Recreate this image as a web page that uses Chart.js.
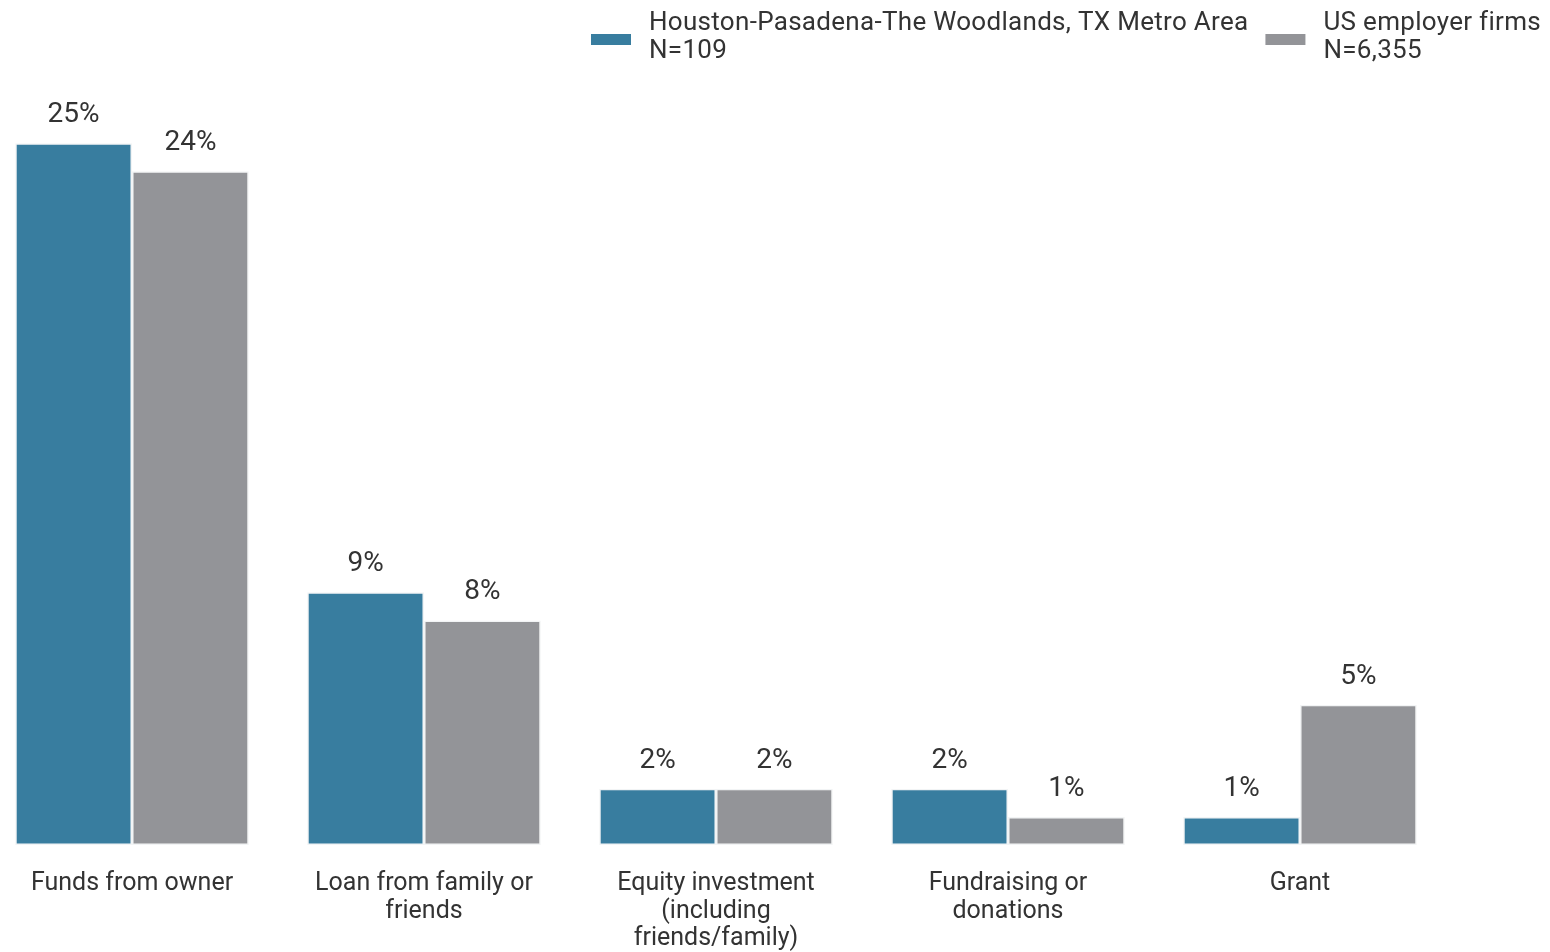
<!DOCTYPE html>
<html>
<head>
<meta charset="utf-8">
<script src="https://cdn.jsdelivr.net/npm/chart.js@4.4.1/dist/chart.umd.min.js"></script>
<style>
  html, body { margin: 0; padding: 0; background: #fff; overflow: hidden; }
  .wrap { position: absolute; left: -14px; top: 0; width: 1564px; height: 952px; }
</style>
</head>
<body>
<div class="wrap"><canvas id="fundingChart"></canvas></div>
<script>
const categories = [
  "Funds from owner",
  ["Loan from family or", "friends"],
  ["Equity investment", "(including", "friends/family)"],
  ["Fundraising or", "donations"],
  "Grant",
];

const houstonValues = [25, 9, 2, 2, 1];
const usValues = [24, 8, 2, 1, 5];

const seriesNames = [
  ["Houston-Pasadena-The Woodlands, TX Metro Area", "N=109"],
  ["US employer firms", "N=6,355"],
];

const palette = {
  blue: "#387d9f",
  gray: "#939498",
  ink: "#333333",
};

const fontFamily = "Roboto, 'Noto Sans', sans-serif";

// value labels above each bar
const valueLabels = {
  id: "valueLabels",
  afterDatasetsDraw(chart) {
    const { ctx } = chart;
    ctx.save();
    ctx.font = `28px ${fontFamily}`;
    ctx.fillStyle = palette.ink;
    ctx.textAlign = "center";
    ctx.textBaseline = "middle";
    chart.data.datasets.forEach((dataset, i) => {
      chart.getDatasetMeta(i).data.forEach((bar, j) => {
        ctx.fillText(`${dataset.data[j]}%`, bar.x, bar.y - 28);
      });
    });
    ctx.restore();
  },
};

// two-line legend, right aligned at the top
const topLegend = {
  id: "topLegend",
  afterDraw(chart) {
    const { ctx } = chart;
    const right = 1555;
    const boxW = 40;
    const boxH = 11;
    const textGap = 18;
    const itemGap = 17;
    ctx.save();
    ctx.font = `26px ${fontFamily}`;
    ctx.letterSpacing = "0.3px";
    ctx.textBaseline = "middle";
    ctx.textAlign = "left";
    const widths = seriesNames.map((lines) => Math.max(...lines.map((l) => ctx.measureText(l).width)));
    let x = right;
    const starts = [];
    for (let i = seriesNames.length - 1; i >= 0; i--) {
      x -= widths[i] + textGap + boxW;
      starts[i] = x;
      x -= itemGap;
    }
    chart.data.datasets.forEach((dataset, i) => {
      const sx = starts[i];
      ctx.fillStyle = dataset.backgroundColor;
      ctx.fillRect(sx, 34, boxW, boxH);
      ctx.fillStyle = palette.ink;
      seriesNames[i].forEach((line, k) => {
        ctx.fillText(line, sx + boxW + textGap, 23 + k * 28);
      });
    });
    ctx.restore();
  },
};

const chart = new Chart(document.getElementById("fundingChart").getContext("2d"), {
  type: "bar",
  data: {
    labels: categories,
    datasets: [
      {
        label: seriesNames[0].join(" "),
        data: houstonValues,
        backgroundColor: palette.blue,
        borderColor: "#f2f4f5",
        borderWidth: 1.5,
        borderSkipped: false,
        categoryPercentage: 0.8,
        barPercentage: 1,
      },
      {
        label: seriesNames[1].join(" "),
        data: usValues,
        backgroundColor: palette.gray,
        borderColor: "#f2f4f5",
        borderWidth: 1.5,
        borderSkipped: false,
        categoryPercentage: 0.8,
        barPercentage: 1,
      },
    ],
  },
  options: {
    responsive: true,
    maintainAspectRatio: false,
    animation: false,
    layout: {
      padding: { top: 59, right: 104, left: 0, bottom: 0 },
    },
    plugins: {
      legend: { display: false },
      tooltip: { enabled: false },
    },
    scales: {
      x: {
        grid: { display: false, drawTicks: false },
        border: { display: false },
        ticks: {
          color: palette.ink,
          padding: 25,
          maxRotation: 0,
          autoSkip: false,
          font: { family: fontFamily, size: 25, lineHeight: 1.1 },
        },
        afterFit(scale) {
          scale.height = 107;
        },
      },
      y: {
        display: false,
        min: 0,
        max: 28,
      },
    },
  },
  plugins: [valueLabels, topLegend],
});
</script>
</body>
</html>
